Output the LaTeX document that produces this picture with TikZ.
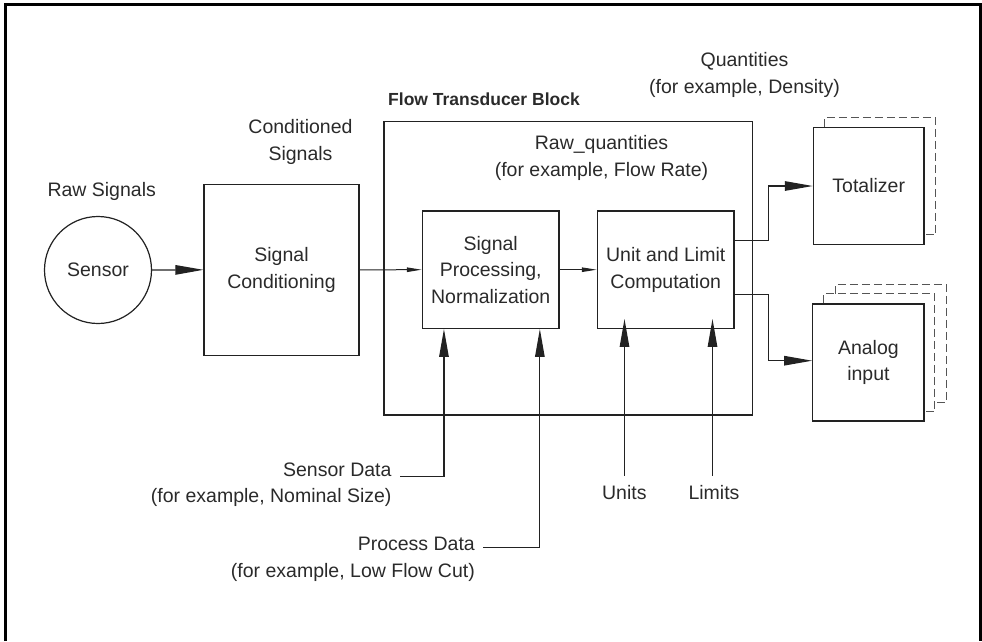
\documentclass[tikz,border=0pt]{standalone}
\usepackage{fontspec}
\setmainfont{Liberation Sans}
\usetikzlibrary{arrows.meta,calc}
\definecolor{ink}{HTML}{222222}
\definecolor{txtink}{HTML}{2A2A2A}
\definecolor{dashgray}{HTML}{555555}
\begin{document}
\begin{tikzpicture}[x=1pt,y=-1pt,
  every node/.style={text=txtink},
  txt/.style={font=\fontsize{19.5}{26.5}\selectfont, align=center, inner sep=0pt},
  box/.style={draw=ink, line width=1.2pt, rectangle, inner sep=0pt, txt},
  bigarrow/.style={draw=ink, line width=1.2pt, -{Triangle[length=28pt,width=9.5pt]}},
  smallarrow/.style={draw=ink, line width=1pt, -{Triangle[length=15pt,width=4.5pt]}},
  shadowline/.style={draw=dashgray, line width=1pt, dash pattern=on 8pt off 4pt},
]
\useasboundingbox (0,0) rectangle (982,641);
\draw[line width=3pt, black] (5.5,641) -- (5.5,4.5) -- (980.5,4.5) -- (980.5,641);

% blocks
\node[box, circle, minimum size=107pt] (sensor) at (98,270) {Sensor};
\node[box, minimum width=155pt, minimum height=171pt] (sc) at (281.5,269.8) {Signal\\Conditioning};
\node[box, minimum width=368.7pt, minimum height=293.3pt] (ftb) at (568.3,268.3) {};
\node[box, minimum width=136.7pt, minimum height=117.3pt] (sp) at (490.7,269.7) {Signal\\Processing,\\Normalization};
\node[box, minimum width=136.7pt, minimum height=117.3pt] (ulc) at (665.7,269.7) {Unit and Limit\\Computation};
\node[box, minimum width=110.7pt, minimum height=116.6pt] (tot) at (868.7,186) {Totalizer};
\node[box, minimum width=111.3pt, minimum height=117pt] (ai) at (868.4,362.5) {Analog\\input};

% shadows
\draw[shadowline] ([xshift=11.4pt]tot.north west) |- ([xshift=11pt,yshift=9.4pt]tot.north east) |- ([yshift=10pt]tot.south east);
\draw[shadowline] ([xshift=11.6pt]ai.north west) |- ([xshift=10.3pt,yshift=9.7pt]ai.north east) |- ([yshift=10pt]ai.south east);
\draw[shadowline] ([xshift=23pt,yshift=9.7pt]ai.north west) |- ([xshift=21.7pt,yshift=19pt]ai.north east) |- ([xshift=10.3pt,yshift=19.3pt]ai.south east);

% labels
\node[txt] (rawsig) at (101.7,191) {Raw Signals};
\node[txt] (condsig) at (300.5,142) {Conditioned\\Signals};
\node[font=\fontsize{17.5}{21}\selectfont\bfseries, anchor=west, inner sep=0pt] (ftblabel) at (388,99.3) {Flow Transducer Block};
\node[txt] (rawq) at (601.5,158) {Raw\_quantities\\(for example, Flow Rate)};
\node[txt] (quant) at (744.5,75) {Quantities\\(for example, Density)};
\node[txt, anchor=east, align=right] (sdata) at (391.7,484.5) {Sensor Data\\(for example, Nominal Size)};
\node[txt, anchor=east, align=right] (pdata) at (475,559.2) {Process Data\\(for example, Low Flow Cut)};
\node[txt] (units) at (624.3,493) {Units};
\node[txt] (limits) at (714,493) {Limits};

% connectors
\draw[bigarrow] (sensor.east) -- (sc.west);
\draw[smallarrow] (sc.east) -- (sp.west);
\draw[smallarrow] (sp.east) -- (ulc.west);

\coordinate (sdEnd) at (400,476.5);
\coordinate (pdEnd) at (483.3,547.5);
\draw[bigarrow] (sdEnd) -| ([xshift=22.2pt]sp.south west);
\draw[bigarrow] (pdEnd) -| ([xshift=-19.8pt]sp.south east);
\draw[bigarrow] ([xshift=0.2pt,yshift=10pt]units.north) -- ([xshift=0.2pt,yshift=10pt]units.north |- ulc.south);
\draw[bigarrow] ([xshift=-1.5pt,yshift=10pt]limits.north) -- ([xshift=-1.5pt,yshift=10pt]limits.north |- ulc.south);

\draw[bigarrow] ([yshift=29pt]ulc.east) -- ++(33.7,0) |- (tot.west);
\draw[bigarrow] ([yshift=-24.6pt]ulc.east) -- ++(33.7,0) |- ([yshift=1.8pt]ai.west);
\end{tikzpicture}
\end{document}
